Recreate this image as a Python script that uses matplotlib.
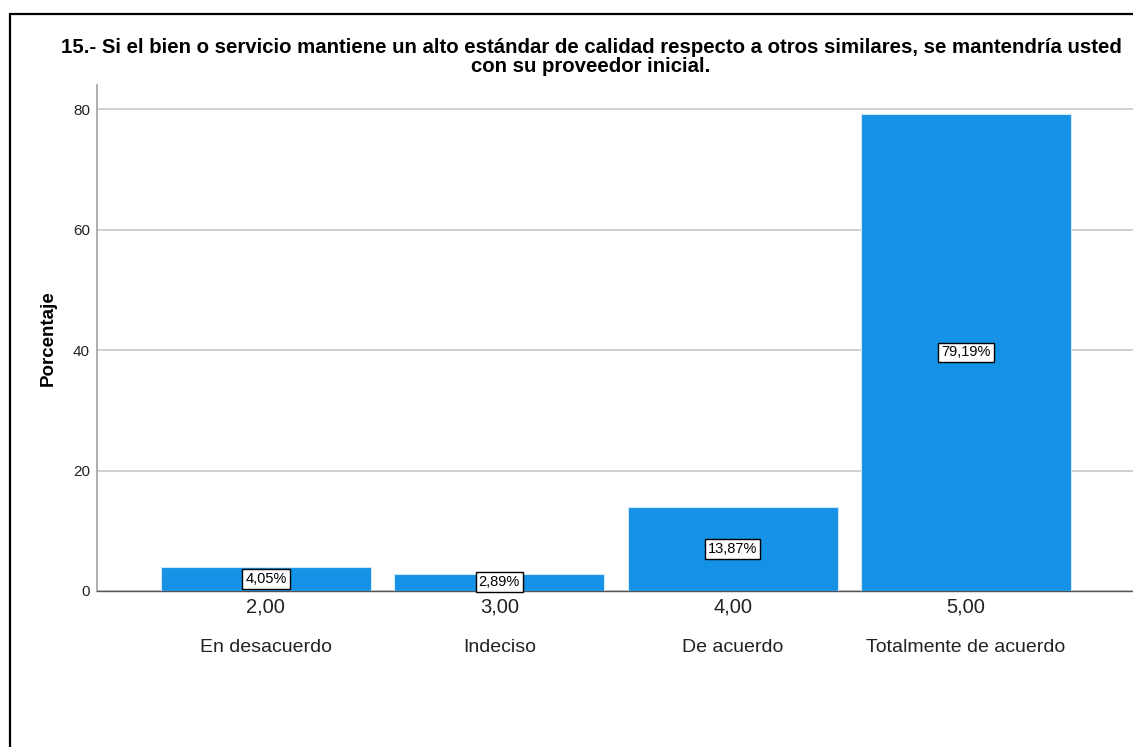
import matplotlib.pyplot as plt
from matplotlib.patches import Rectangle
from matplotlib.transforms import blended_transform_factory

plt.rcParams['font.family'] = ['Liberation Sans', 'DejaVu Sans']

# Data
codes = ['2,00', '3,00', '4,00', '5,00']
categories = ['En desacuerdo', 'Indeciso', 'De acuerdo', 'Totalmente de acuerdo']
percentages = [4.05, 2.89, 13.87, 79.19]
title = ('15.- Si el bien o servicio mantiene un alto estándar de calidad respecto a otros similares, '
         'se mantendría usted\ncon su proveedor inicial.')

fig = plt.figure(figsize=(11.33, 7.47), dpi=100)
W, H = 1133, 747

# outer frame (black border, cropped on right and bottom)
fig.patches.append(Rectangle((10 / W, -0.05), 1.2, 1.05 - 14 / H, transform=fig.transFigure,
                             fill=False, edgecolor='black', linewidth=1.6))

ax = fig.add_axes([97 / W, 1 - 591 / H, (1133 - 97) / W, (591 - 85) / H])
x = range(len(percentages))
ax.bar(x, percentages, width=0.9, color='#1591e6', edgecolor='#cfe6f7', linewidth=0.8, zorder=3)

ax.set_xlim(-0.724, 3.716)
ax.set_ylim(0, 84)
ax.set_yticks([0, 20, 40, 60, 80])
ax.yaxis.grid(True, color='#c8c8c8', linewidth=1.2, zorder=0)
ax.tick_params(axis='y', length=0, pad=5, labelsize=11, labelcolor='#222222')
ax.tick_params(axis='x', length=0, pad=5, labelsize=14.5, labelcolor='#222222')
ax.set_xticks(list(x))
ax.set_xticklabels(codes)

for s in ['top', 'right']:
    ax.spines[s].set_visible(False)
ax.spines['left'].set_color('#a0a0a0')
ax.spines['bottom'].set_color('#555555')
ax.spines['left'].set_linewidth(1.2)
ax.spines['bottom'].set_linewidth(1.0)

ax.set_ylabel('Porcentaje', fontsize=13.5, fontweight='bold', labelpad=12)

trans = blended_transform_factory(ax.transData, fig.transFigure)
for i, name in enumerate(categories):
    ax.text(i, 1 - 647 / H, name, transform=trans, ha='center', va='center',
            fontsize=14, color='#222222')

for i, v in enumerate(percentages):
    ax.text(i, v / 2, f'{v:.2f}%'.replace('.', ','), ha='center', va='center', fontsize=10.5,
            zorder=5, bbox=dict(boxstyle='square,pad=0.2', facecolor='white',
                                edgecolor='black', linewidth=1))

fig.text(591 / W, 1 - 57 / H, title, ha='center', va='center', fontsize=14.7,
         fontweight='bold', linespacing=1.05)

fig.savefig('out.png', dpi=100)
